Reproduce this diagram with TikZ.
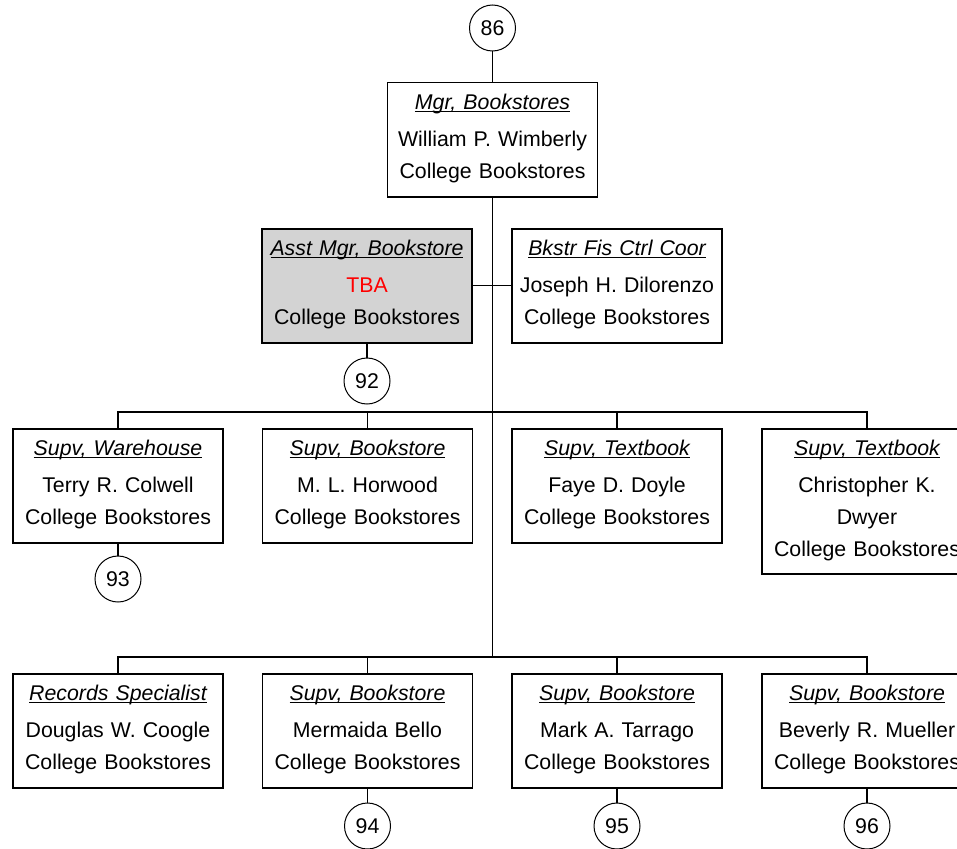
\documentclass[tikz,border=0pt]{standalone}
\usepackage{fontspec}
\setmainfont{Liberation Sans}
\usetikzlibrary{positioning}
\definecolor{boxgray}{RGB}{211,211,211}
\newsavebox{\titlebox}
\newcommand{\postitle}[1]{\sbox{\titlebox}{\itshape #1}\rlap{\rule[-2.6pt]{\wd\titlebox}{1.2pt}}\usebox{\titlebox}}
\tikzset{
  orgbox/.style={draw, line width=1.5pt, anchor=north, text width=200pt, inner xsep=5pt, inner ysep=0pt,
    align=center, text height=27pt, text depth=87pt, font=\fontsize{21.3}{32}\selectfont},
  tallbox/.style={orgbox, text depth=118pt},
  refcircle/.style={draw, circle, line width=1pt, minimum size=46pt, inner sep=0pt, font=\fontsize{21.3}{24}\selectfont},
  link/.style={line width=1.4pt}
}
\begin{document}
\begin{tikzpicture}[x=1pt, y=-1pt]
  \useasboundingbox[fill=white] (0,0) rectangle (957,848);
  \node[refcircle] (c86) at (492.5,28) {86};
  \node[orgbox] (mgr) at (492.5,82) {\postitle{Mgr, Bookstores}\\[5pt] William P. Wimberly\\ College Bookstores};
  \node[orgbox, fill=boxgray] (asst) at (367,228) {\postitle{Asst Mgr, Bookstore}\\[5pt] \textcolor{red}{TBA}\\ College Bookstores};
  \node[orgbox] (fis) at (617,228) {\postitle{Bkstr Fis Ctrl Coor}\\[5pt] Joseph H. Dilorenzo\\ College Bookstores};
  \node[refcircle] (c92) at (367,381) {92};
  \coordinate (bus1) at (492.5,412);
  \coordinate (bus2) at (492.5,657);
  \node[orgbox] (wh) at (118,428) {\postitle{Supv, Warehouse}\\[5pt] Terry R. Colwell\\ College Bookstores};
  \node[orgbox] (bk1) at (367.5,428) {\postitle{Supv, Bookstore}\\[5pt] M. L. Horwood\\ College Bookstores};
  \node[orgbox] (tx1) at (617,428) {\postitle{Supv, Textbook}\\[5pt] Faye D. Doyle\\ College Bookstores};
  \node[tallbox] (tx2) at (867,428) {\postitle{Supv, Textbook}\\[5pt] Christopher K.\\ Dwyer\\ College Bookstores};
  \node[refcircle] (c93) at (118,579) {93};
  \node[orgbox] (rec) at (118,673) {\postitle{Records Specialist}\\[5pt] Douglas W. Coogle\\ College Bookstores};
  \node[orgbox] (bk2) at (367.5,673) {\postitle{Supv, Bookstore}\\[5pt] Mermaida Bello\\ College Bookstores};
  \node[orgbox] (bk3) at (617,673) {\postitle{Supv, Bookstore}\\[5pt] Mark A. Tarrago\\ College Bookstores};
  \node[orgbox] (bk4) at (867,673) {\postitle{Supv, Bookstore}\\[5pt] Beverly R. Mueller\\ College Bookstores};
  \node[refcircle] (c94) at (367.5,826) {94};
  \node[refcircle] (c95) at (617,826) {95};
  \node[refcircle] (c96) at (867,826) {96};
  \draw[link] (c86) -- (mgr);
  \draw[link] (mgr.south) -- (bus2);
  \draw[link] (asst.east) -- (fis.west);
  \draw[link] (asst) -- (c92);
  \draw[link] (wh.north) |- (bus1) -| (tx2.north);
  \draw[link] (bk1.north) -- (bk1.north |- bus1);
  \draw[link] (tx1.north) -- (tx1.north |- bus1);
  \draw[link] (wh) -- (c93);
  \draw[link] (rec.north) |- (bus2) -| (bk4.north);
  \draw[link] (bk2.north) -- (bk2.north |- bus2);
  \draw[link] (bk3.north) -- (bk3.north |- bus2);
  \draw[link] (bk2) -- (c94);
  \draw[link] (bk3) -- (c95);
  \draw[link] (bk4) -- (c96);
\end{tikzpicture}
\end{document}
